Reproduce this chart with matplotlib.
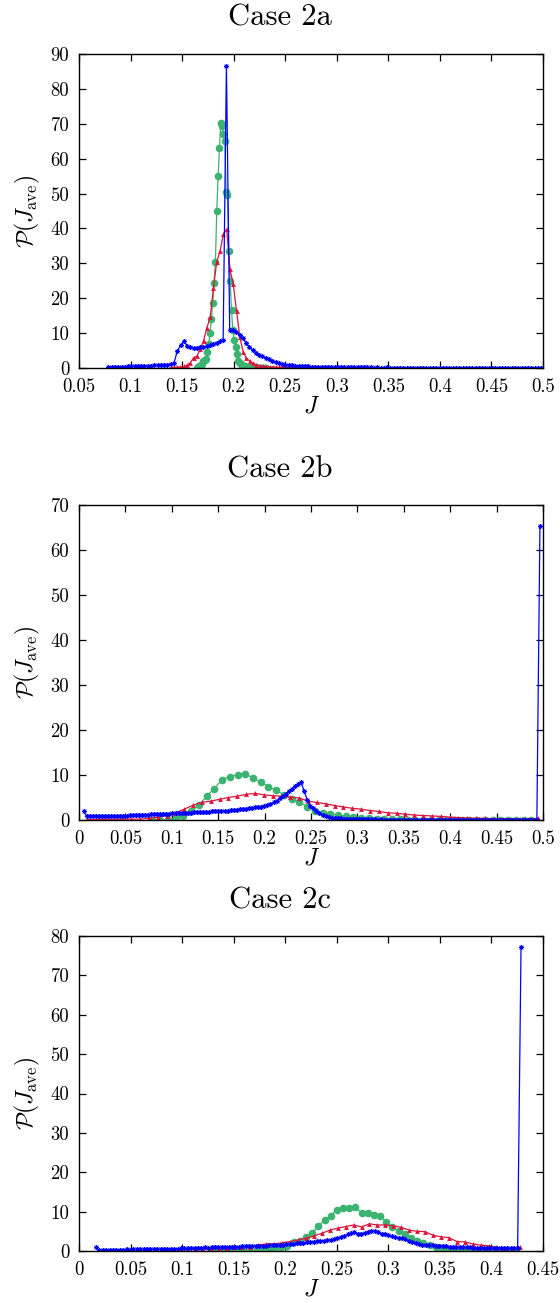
import numpy as np
import matplotlib
matplotlib.use('Agg')
import matplotlib.pyplot as plt

plt.rcParams['font.family'] = 'serif'
plt.rcParams['font.serif'] = ['cmr10']
plt.rcParams['mathtext.fontset'] = 'cm'
plt.rcParams['axes.unicode_minus'] = False
plt.rcParams['axes.formatter.use_mathtext'] = True

# ---------------- data ----------------
titles = ['Case 2a', 'Case 2b', 'Case 2c']

# Case 2a
blue_2a_start, blue_2a_step = 0.0785, 0.00318
blue_2a = [0.3, 0.3, 0.35, 0.35, 0.4, 0.4, 0.45, 0.5, 0.5, 0.55,
           0.6, 0.6, 0.65, 0.7, 0.75, 0.8, 0.85, 0.9, 1.0, 1.2,
           1.4, 4.8, 6.5, 7.6, 6.4, 6.0, 5.8, 5.7, 5.9, 6.0,
           6.2, 6.5, 6.9, 7.3, 7.8, 8.1, 86.6, 11.0, 10.8, 10.2,
           9.5, 8.5, 7.2, 6.0, 5.1, 4.4, 3.8, 3.4, 3.0, 2.5,
           2.1, 1.7, 1.4, 1.2, 1.0, 0.9, 0.8, 0.7, 0.6, 0.55,
           0.5, 0.45, 0.4, 0.35, 0.3, 0.3, 0.25, 0.25, 0.2, 0.2,
           0.2, 0.2, 0.2, 0.15, 0.2, 0.15, 0.15, 0.15, 0.15, 0.15,
           0.15, 0.1, 0.15, 0.1, 0.1, 0.15, 0.1, 0.1, 0.1, 0.1,
           0.1, 0.1, 0.1, 0.1, 0.1, 0.1, 0.1, 0.1, 0.1, 0.1,
           0.1, 0.1, 0.1, 0.1, 0.1, 0.1, 0.1, 0.1, 0.1, 0.1,
           0.1, 0.1, 0.1, 0.1, 0.1, 0.1, 0.1, 0.1, 0.1, 0.1,
           0.1, 0.1, 0.1, 0.1, 0.1, 0.1, 0.1, 0.1, 0.1, 0.1,
           0.1, 0.1, 0.1]
red_2a_start, red_2a_step = 0.1388, 0.0032
red_2a = [0.1, 0.15, 0.2, 0.3, 0.45, 0.8, 1.5, 3.0, 3.4, 5.4,
          7.8, 11.5, 14.5, 23.0, 30.5, 33.5, 38.3, 39.8, 28.3, 24.0,
          16.3, 8.8, 4.6, 2.8, 1.9, 1.3, 0.9, 0.7, 0.5, 0.4,
          0.35, 0.3, 0.25, 0.2, 0.2, 0.15, 0.15, 0.15, 0.1, 0.1,
          0.1, 0.1, 0.1]
green_2a_start, green_2a_step = 0.1641, 0.0013
green_2a = [0.0, 0.2, 0.5, 0.8, 1.2, 1.9, 2.4, 2.6, 4.7, 7.0,
            10.0, 14.0, 18.5, 24.5, 30.5, 45.0, 55.0, 63.0, 70.2, 69.4,
            67.0, 65.0, 50.5, 49.7, 33.5, 25.0, 16.5, 11.0, 8.0, 5.9,
            4.1, 2.1, 1.5, 1.1, 0.8, 0.6, 0.5, 0.4, 0.35, 0.3,
            0.25, 0.2, 0.2, 0.15, 0.15, 0.1, 0.1, 0.1, 0.1, 0.05,
            0.05, 0.05, 0.05]

# Case 2b
blue_2b_start, blue_2b_step = 0.005, 0.0033
blue_2b = [1.9, 0.8, 0.8, 0.85, 0.85, 0.85, 0.9, 0.85, 0.9, 0.9,
           0.95, 0.95, 1.0, 0.95, 1.0, 1.05, 1.05, 1.1, 1.1, 1.15,
           1.2, 1.2, 1.25, 1.25, 1.3, 1.3, 1.35, 1.4, 1.4, 1.45,
           1.5, 1.5, 1.55, 1.6, 1.6, 1.65, 1.7, 1.7, 1.75, 1.8,
           1.8, 1.85, 1.9, 1.9, 1.95, 2.0, 2.05, 2.1, 2.2, 2.25,
           2.3, 2.4, 2.45, 2.5, 2.6, 2.7, 2.8, 2.9, 3.0, 3.2,
           3.4, 3.6, 3.9, 4.3, 4.8, 5.3, 5.8, 6.4, 7.0, 7.6,
           8.0, 8.4, 6.4, 4.5, 3.2, 2.6, 2.0, 1.5, 1.1, 0.9,
           0.7, 0.55, 0.45, 0.4, 0.35, 0.3, 0.25, 0.25, 0.2, 0.2,
           0.2, 0.15, 0.15, 0.15, 0.15, 0.15, 0.1, 0.15, 0.1, 0.1,
           0.1, 0.1, 0.1, 0.1, 0.1, 0.1, 0.1, 0.1, 0.1, 0.1,
           0.1, 0.1, 0.1, 0.1, 0.1, 0.1, 0.1, 0.1, 0.1, 0.1,
           0.1, 0.1, 0.1, 0.1, 0.1, 0.1, 0.1, 0.1, 0.1, 0.1,
           0.1, 0.1, 0.1, 0.1, 0.1, 0.1, 0.1, 0.1, 0.1, 0.1,
           0.1, 0.1, 0.1, 0.1, 0.1, 0.1, 0.1, 0.1, 0.1, 65.3]
red_2b_start, red_2b_step = 0.0086, 0.00953
red_2b = [0.1, 0.1, 0.15, 0.15, 0.15, 0.2, 0.2, 0.35, 0.6, 1.0,
          1.6, 2.4, 3.3, 3.9, 4.2, 4.6, 5.0, 5.3, 5.7, 5.9,
          5.6, 5.4, 5.3, 5.1, 4.9, 4.2, 3.9, 3.6, 3.2, 2.9,
          2.6, 2.4, 2.1, 1.9, 1.6, 1.5, 1.3, 1.1, 1.0, 0.9,
          0.8, 0.65, 0.55, 0.45, 0.4, 0.35, 0.3, 0.3, 0.25, 0.2,
          0.15, 0.4]
green_2b_start, green_2b_step = 0.0792, 0.00833
green_2b = [0.0, 0.0, 0.05, 0.4, 1.0, 1.9, 3.3, 5.3, 7.0, 9.0,
            9.6, 10.1, 10.3, 9.3, 8.4, 7.4, 6.6, 5.6, 4.7, 3.9,
            3.0, 2.1, 1.6, 1.4, 1.1, 0.9, 0.7, 0.5, 0.4, 0.3,
            0.2, 0.15, 0.12, 0.1, 0.1, 0.08, 0.08, 0.06, 0.06, 0.05,
            0.05, 0.04, 0.04, 0.03, 0.03, 0.03, 0.02, 0.02, 0.02, 0.02]

# Case 2c
blue_2c_start, blue_2c_step = 0.0165, 0.0032976
blue_2c = [0.9, 0.25, 0.25, 0.3, 0.3, 0.35, 0.3, 0.35, 0.35, 0.4,
           0.35, 0.4, 0.4, 0.4, 0.45, 0.4, 0.45, 0.45, 0.5, 0.5,
           0.5, 0.55, 0.6, 0.55, 0.6, 0.65, 0.7, 0.7, 0.75, 0.8,
           0.8, 0.85, 0.9, 0.85, 0.9, 0.95, 1.0, 0.95, 1.0, 1.05,
           1.1, 1.05, 1.1, 1.15, 1.2, 1.15, 1.2, 1.25, 1.3, 1.3,
           1.35, 1.4, 1.45, 1.5, 1.55, 1.6, 1.7, 1.75, 1.85, 1.95,
           2.0, 2.1, 2.2, 2.3, 2.4, 2.45, 2.55, 2.65, 2.75, 2.85,
           3.0, 3.3, 3.6, 3.9, 4.2, 4.5, 4.8, 4.3, 4.4, 4.6,
           4.9, 5.2, 5.0, 4.7, 4.4, 4.2, 4.0, 3.7, 3.5, 3.4,
           3.3, 3.1, 2.6, 2.3, 2.0, 1.8, 1.6, 1.5, 1.45, 1.4,
           1.35, 1.3, 1.2, 1.15, 1.1, 1.05, 1.0, 0.95, 0.9, 0.9,
           0.9, 0.85, 0.85, 0.85, 0.85, 0.8, 0.8, 0.8, 0.8, 0.75,
           0.75, 0.75, 0.7, 0.7, 0.65, 77.3]
red_2c_start, red_2c_step = 0.0815, 0.0077
red_2c = [0.25, 0.25, 0.3, 0.4, 0.4, 0.5, 0.7, 0.7, 0.85, 0.9,
          0.95, 1.1, 1.5, 1.8, 1.8, 2.1, 2.4, 2.8, 3.2, 3.8,
          4.5, 5.3, 5.8, 6.2, 6.6, 6.1, 6.9, 6.6, 6.6, 6.4,
          6.0, 5.3, 5.0, 4.9, 4.0, 3.6, 3.4, 2.4, 2.3, 1.8,
          1.5, 1.3, 0.9, 0.8, 0.7, 0.9]
green_2c_start, green_2c_step = 0.1303, 0.00599
green_2c = [0.0, 0.0, 0.0, 0.0, 0.0, 0.02, 0.05, 0.15, 0.25, 0.4,
            0.7, 1.1, 1.3, 2.3, 2.6, 3.6, 4.6, 6.3, 7.8, 8.9,
            10.5, 10.9, 11.0, 11.1, 9.7, 9.7, 9.2, 9.0, 7.3, 6.0,
            5.1, 4.2, 3.4, 2.5, 2.0, 1.4, 1.0, 0.8, 0.6, 0.45,
            0.35, 0.25, 0.2, 0.15, 0.1, 0.1, 0.05, 0.05, 0.05, 0.05]

xticks_all = [[0.05, 0.1, 0.15, 0.2, 0.25, 0.3, 0.35, 0.4, 0.45, 0.5],
              [0, 0.05, 0.1, 0.15, 0.2, 0.25, 0.3, 0.35, 0.4, 0.45, 0.5],
              [0, 0.05, 0.1, 0.15, 0.2, 0.25, 0.3, 0.35, 0.4, 0.45]]
yticks_all = [[0, 10, 20, 30, 40, 50, 60, 70, 80, 90],
              [0, 10, 20, 30, 40, 50, 60, 70],
              [0, 10, 20, 30, 40, 50, 60, 70, 80]]
xlims = [(0.05, 0.5), (0.0, 0.5), (0.0, 0.45)]
ylims = [(0, 90), (0, 70), (0, 80)]

series = [
    [(green_2a_start, green_2a_step, green_2a),
     (red_2a_start, red_2a_step, red_2a),
     (blue_2a_start, blue_2a_step, blue_2a)],
    [(green_2b_start, green_2b_step, green_2b),
     (red_2b_start, red_2b_step, red_2b),
     (blue_2b_start, blue_2b_step, blue_2b)],
    [(green_2c_start, green_2c_step, green_2c),
     (red_2c_start, red_2c_step, red_2c),
     (blue_2c_start, blue_2c_step, blue_2c)],
]

# ---------------- style ----------------
GREEN = '#3cb371'
RED = '#dc143c'
BLUE = '#0000ff'
styles = [
    dict(color=GREEN, marker='o', markersize=5.5, lw=0.9, markeredgewidth=0),
    dict(color=RED, marker='^', markersize=3.5, lw=0.9, markeredgewidth=0),
    dict(color=BLUE, marker=(8, 2, 0), markersize=3.6, lw=0.9, markeredgewidth=0.55),
]

fig = plt.figure(figsize=(5.6, 13.03), dpi=100)
W, H = 560.0, 1303.0
boxes = [(79, 54, 543, 368), (79, 505, 543, 820), (79, 936, 543, 1251)]
title_y = [18, 470, 901]

for p in range(3):
    l, t, r, b = boxes[p]
    ax = fig.add_axes([l / W, 1 - b / H, (r - l) / W, (b - t) / H])
    for (x0, dx, ys), st in zip(series[p], styles):
        ys = np.asarray(ys)
        xs = x0 + dx * np.arange(len(ys))
        ax.plot(xs, ys, **st)
    ax.set_xlim(*xlims[p])
    ax.set_ylim(*ylims[p])
    ax.set_xticks(xticks_all[p])
    ax.set_xticklabels(['%g' % v for v in xticks_all[p]])
    ax.set_yticks(yticks_all[p])
    ax.set_yticklabels(['%g' % v for v in yticks_all[p]])
    ax.tick_params(direction='in', length=5, width=0.9, top=True, right=True,
                   labelsize=13.5, pad=7)
    for s in ax.spines.values():
        s.set_linewidth(1.0)
    fig.text(0.5, 1 - title_y[p] / H, titles[p], fontsize=22, ha='center', va='center')
    ax.set_xlabel(r'$J$', fontsize=17, labelpad=0)
    ax.set_ylabel(r'$\mathcal{P}(J_{\rm ave})$', fontsize=17, labelpad=6)

fig.savefig('out.png', dpi=100)
